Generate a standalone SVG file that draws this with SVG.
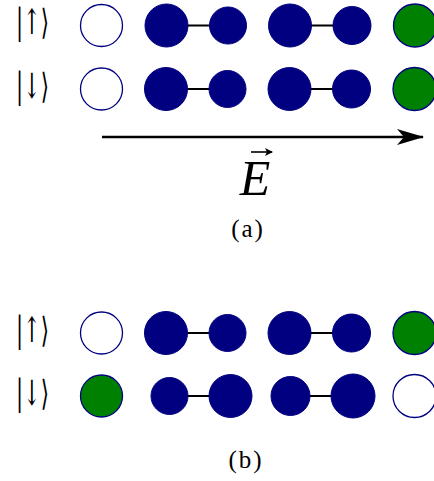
<svg xmlns="http://www.w3.org/2000/svg" width="434" height="481" viewBox="0 0 434 481">
<style>
.empty{fill:#ffffff;stroke:#000080;stroke-width:1.3}
.full{fill:#000080;stroke:#000080;stroke-width:1}
.green{fill:#008000;stroke:#000080;stroke-width:1.3}
.bond{stroke:#000000;stroke-width:2.2;fill:none}
.ket{font-family:"DejaVu Serif",serif;font-size:35px;fill:#000}
.cap{font-family:"Liberation Serif",serif;font-size:25px;letter-spacing:2px;fill:#000;text-anchor:middle}
</style>
<defs>
<marker id="stealth" viewBox="0 0 28 16" refX="26" refY="8" markerWidth="28" markerHeight="16" markerUnits="userSpaceOnUse" orient="auto">
<path d="M0,0 L27,8 L0,16 L7,8 Z" fill="#000"/>
</marker>
<marker id="vec" viewBox="0 0 8 8" refX="7" refY="4" markerWidth="8" markerHeight="8" markerUnits="userSpaceOnUse" orient="auto">
<path d="M0,0 L8,4 L0,8 L2,4 Z" fill="#000"/>
</marker>
</defs>
<rect width="434" height="481" fill="#ffffff"/>
<g id="connectors">
<line class="bond" x1="166" y1="25.5" x2="228" y2="25.5"/>
<line class="bond" x1="290" y1="25.5" x2="352" y2="25.5"/>
<line class="bond" x1="166" y1="89" x2="227.5" y2="89"/>
<line class="bond" x1="289.5" y1="89" x2="351.5" y2="89"/>
<line class="bond" x1="166" y1="333" x2="227.5" y2="333"/>
<line class="bond" x1="289.5" y1="333" x2="351.5" y2="333"/>
<line class="bond" x1="169.5" y1="396" x2="230.5" y2="396"/>
<line class="bond" x1="290.5" y1="396" x2="353" y2="396"/>
<line id="efield" x1="102" y1="137" x2="423" y2="137" stroke="#000" stroke-width="2.4" marker-end="url(#stealth)"/>
</g>
<g id="label-a-up"><text class="ket" x="16" y="34" textLength="33" lengthAdjust="spacingAndGlyphs">|↑⟩</text></g>
<g id="label-a-down"><text class="ket" x="16" y="98" textLength="33" lengthAdjust="spacingAndGlyphs">|↓⟩</text></g>
<g id="a1-0"><circle class="empty" cx="101.5" cy="25.5" r="21"/></g>
<g id="a1-1"><circle class="full" cx="166.5" cy="25.5" r="21.5"/></g>
<g id="a1-2"><circle class="full" cx="228" cy="25.5" r="18.5"/></g>
<g id="a1-3"><circle class="full" cx="290" cy="25.5" r="21.5"/></g>
<g id="a1-4"><circle class="full" cx="352" cy="25.5" r="19"/></g>
<g id="a1-5"><circle class="green" cx="415" cy="25.5" r="21.5"/></g>
<g id="a2-0"><circle class="empty" cx="101.5" cy="89" r="21"/></g>
<g id="a2-1"><circle class="full" cx="166" cy="89" r="21.5"/></g>
<g id="a2-2"><circle class="full" cx="227.5" cy="89" r="18.5"/></g>
<g id="a2-3"><circle class="full" cx="289.5" cy="89" r="21.5"/></g>
<g id="a2-4"><circle class="full" cx="351.5" cy="89" r="19"/></g>
<g id="a2-5"><circle class="green" cx="414.5" cy="89" r="21.5"/></g>
<g id="label-E"><text x="255" y="195" text-anchor="middle" font-family="Liberation Serif, serif" font-style="italic" font-size="50">E</text><line x1="251" y1="152" x2="272" y2="152" stroke="#000" stroke-width="1.6" marker-end="url(#vec)"/></g>
<g id="caption-a"><text class="cap" x="248" y="237">(a)</text></g>
<g id="label-b-up"><text class="ket" x="16" y="342" textLength="33" lengthAdjust="spacingAndGlyphs">|↑⟩</text></g>
<g id="label-b-down"><text class="ket" x="16" y="405" textLength="33" lengthAdjust="spacingAndGlyphs">|↓⟩</text></g>
<g id="b1-0"><circle class="empty" cx="101.5" cy="333" r="21"/></g>
<g id="b1-1"><circle class="full" cx="166" cy="333" r="21.5"/></g>
<g id="b1-2"><circle class="full" cx="227.5" cy="333" r="18.5"/></g>
<g id="b1-3"><circle class="full" cx="289.5" cy="333" r="21.5"/></g>
<g id="b1-4"><circle class="full" cx="351.5" cy="333" r="19"/></g>
<g id="b1-5"><circle class="green" cx="414.5" cy="333" r="21.5"/></g>
<g id="b2-0"><circle class="green" cx="101.5" cy="396" r="21"/></g>
<g id="b2-1"><circle class="full" cx="169.5" cy="396" r="18.5"/></g>
<g id="b2-2"><circle class="full" cx="230.5" cy="396" r="21.5"/></g>
<g id="b2-3"><circle class="full" cx="290.5" cy="396" r="19.5"/></g>
<g id="b2-4"><circle class="full" cx="353" cy="396" r="22"/></g>
<g id="b2-5"><circle class="empty" cx="414.5" cy="396" r="21.5"/></g>
<g id="caption-b"><text class="cap" x="246" y="468">(b)</text></g>
</svg>
